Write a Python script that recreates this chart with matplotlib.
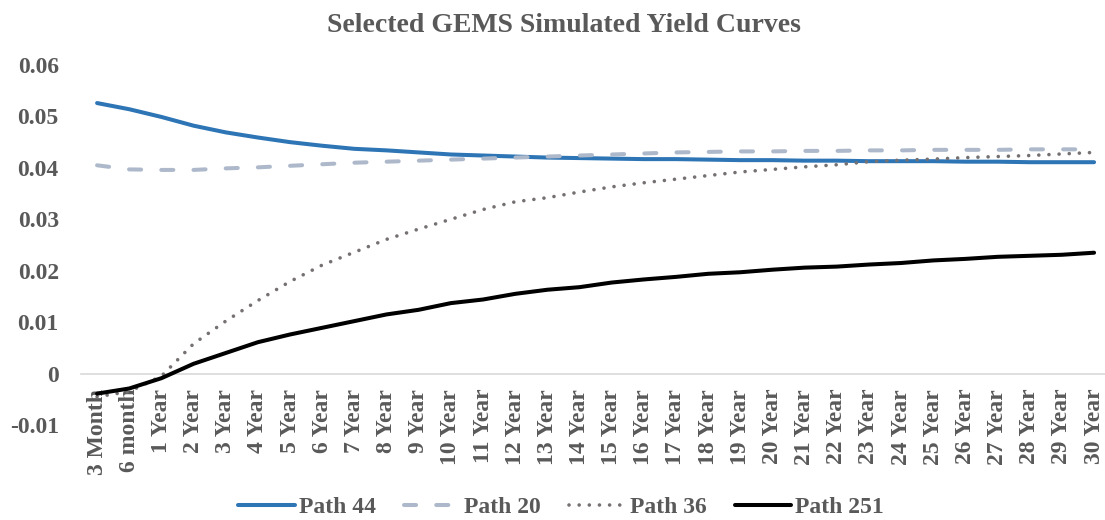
import matplotlib
matplotlib.use("Agg")
import matplotlib.pyplot as plt

plt.rcParams['font.family'] = ['Liberation Serif', 'DejaVu Serif']
plt.rcParams['font.weight'] = 'bold'
plt.rcParams['axes.unicode_minus'] = False

txt_col = '#595959'

terms = ['3 Month', '6 month'] + [f'{i} Year' for i in range(1, 31)]

# yields
path44 = [0.0526, 0.0514, 0.0499, 0.0482, 0.0469, 0.0459, 0.0450, 0.0443,
          0.0437, 0.0434, 0.0430, 0.0426, 0.0424, 0.0422, 0.0420, 0.0419,
          0.0418, 0.0417, 0.0417, 0.0416, 0.0415, 0.0415, 0.0414, 0.0414,
          0.0413, 0.0413, 0.0413, 0.0412, 0.0412, 0.0411, 0.0411, 0.0411]
path20 = [0.0405, 0.0397, 0.0396, 0.0396, 0.0399, 0.0401, 0.0404, 0.0407,
          0.0410, 0.0412, 0.0414, 0.0416, 0.0418, 0.0420, 0.0422, 0.0424,
          0.0426, 0.0428, 0.0430, 0.0431, 0.0432, 0.0432, 0.0433, 0.0433,
          0.0434, 0.0434, 0.0435, 0.0435, 0.0435, 0.0436, 0.0436, 0.0436]
path36 = [-0.0045, -0.0035, -0.0005, 0.0058, 0.0102, 0.0142, 0.0179, 0.0211,
          0.0236, 0.0261, 0.0281, 0.0300, 0.0319, 0.0334, 0.0342, 0.0353,
          0.0363, 0.0371, 0.0378, 0.0385, 0.0392, 0.0397, 0.0402, 0.0406,
          0.0412, 0.0415, 0.0417, 0.0420, 0.0422, 0.0424, 0.0427, 0.0430]
path251 = [-0.0039, -0.0029, -0.0009, 0.0019, 0.0040, 0.0061, 0.0076, 0.0089,
           0.0102, 0.0115, 0.0124, 0.0137, 0.0144, 0.0155, 0.0163, 0.0168,
           0.0177, 0.0183, 0.0188, 0.0194, 0.0197, 0.0202, 0.0206, 0.0208,
           0.0212, 0.0215, 0.0220, 0.0223, 0.0227, 0.0229, 0.0231, 0.0235]

yticks = [0.06, 0.05, 0.04, 0.03, 0.02, 0.01, 0, -0.01]
ylabels = ['0.06', '0.05', '0.04', '0.03', '0.02', '0.01', '0', '-0.01']

fig = plt.figure(figsize=(11.05, 5.2), dpi=100)
ax = fig.add_axes([81 / 1105, 1 - 425 / 520, 1 - 81 / 1105, 360 / 520])

x = list(range(len(terms)))
ax.plot(x, path44, color='#2E75B6', lw=2.9, solid_capstyle='round', label='Path 44')
ax.plot(x, path20, color='#ADB9CA', lw=2.9, dashes=(3, 5), dash_capstyle='round', label='Path 20')
ax.plot(x, path36, color='#767171', lw=2.6, dashes=(0.01, 2.8), dash_capstyle='round', label='Path 36')
ax.plot(x, path251, color='black', lw=2.9, solid_capstyle='round', label='Path 251')

ax.set_xlim(-0.5, 31.34)
ax.set_ylim(-0.01, 0.06)

for s in ['top', 'right', 'left']:
    ax.spines[s].set_visible(False)
ax.spines['bottom'].set_position(('data', 0))
ax.spines['bottom'].set_color('#D9D9D9')
ax.spines['bottom'].set_linewidth(1.2)
ax.spines['bottom'].set_zorder(0)

ax.set_xticks(x)
ax.set_xticklabels(terms, rotation=90, fontsize=17, color=txt_col, fontweight='bold')
ax.set_yticks(yticks)
ax.set_yticklabels(ylabels, fontsize=17, color=txt_col, fontweight='bold')
ax.tick_params(axis='x', length=0, pad=11)
ax.tick_params(axis='y', length=0, pad=16)

fig.text(0.51, 1 - 25 / 520, 'Selected GEMS Simulated Yield Curves', ha='center', va='center',
         fontsize=20, fontweight='bold', color=txt_col)

leg = fig.legend(loc='center', bbox_to_anchor=(561 / 1105, 1 - 507 / 520), ncol=4, frameon=False,
                 fontsize=17, handlelength=2.4, handletextpad=0.15, columnspacing=1.2)
for t in leg.get_texts():
    t.set_color(txt_col)

fig.savefig('out.png', dpi=100)
